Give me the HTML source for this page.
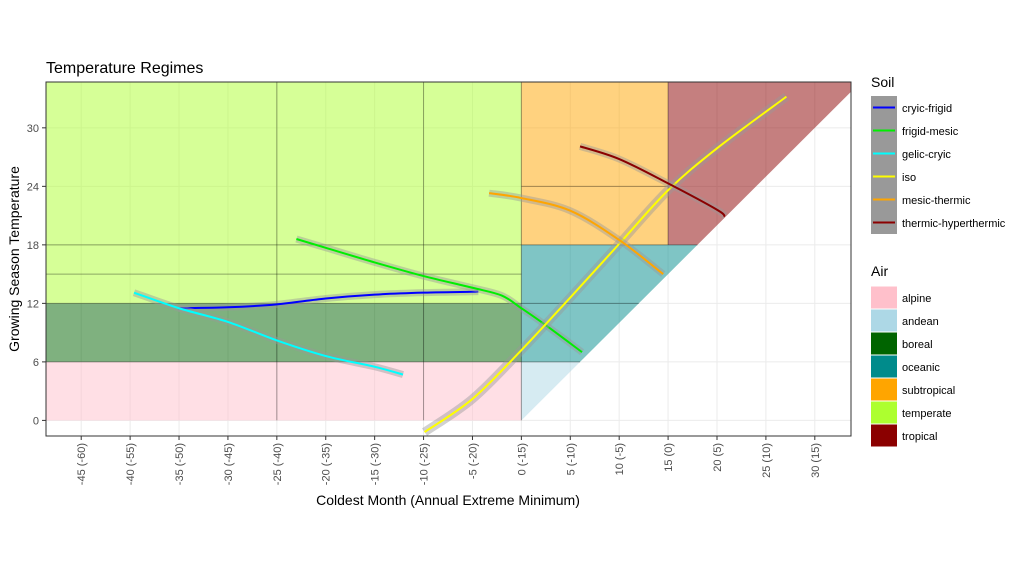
<!DOCTYPE html>
<html><head><meta charset="utf-8"><style>
html,body{margin:0;padding:0;background:#fff;}
svg{display:block;font-family:"Liberation Sans",sans-serif;}
</style></head><body>
<svg id="chart" width="1033" height="567" viewBox="0 0 1033 567">
<defs><clipPath id="diag"><polygon id="diagpoly" points="0,0"/></clipPath>
<clipPath id="panel"><rect x="46" y="82" width="805" height="354"/></clipPath></defs>
<text x="46" y="73" font-size="16" fill="#000">Temperature Regimes</text>
<g id="grid"></g>
<g id="regions" clip-path="url(#diag)"></g>
<g id="bounds"></g>
<g id="series" clip-path="url(#panel)"></g>
<rect x="46" y="82" width="805" height="354" fill="none" stroke="#333" stroke-width="1"/>
<g id="axes"></g>
<text x="448" y="505" font-size="14" text-anchor="middle">Coldest Month (Annual Extreme Minimum)</text>
<text transform="translate(19,259) rotate(-90)" font-size="14" text-anchor="middle">Growing Season Temperature</text>
<g id="legend"></g>
</svg>
<script>
const xTicks=[-45,-40,-35,-30,-25,-20,-15,-10,-5,0,5,10,15,20,25,30];
const xTickLabels=["-45 (-60)","-40 (-55)","-35 (-50)","-30 (-45)","-25 (-40)","-20 (-35)","-15 (-30)","-10 (-25)","-5 (-20)","0 (-15)","5 (-10)","10 (-5)","15 (0)","20 (5)","25 (10)","30 (15)"];
const yTicks=[0,6,12,18,24,30];
const soilNames=["cryic-frigid","frigid-mesic","gelic-cryic","iso","mesic-thermic","thermic-hyperthermic"];
const soilColors=["#0000ff","#00ee00","#00ffff","#ffff00","#ffa500","#8b0000"];
const cryicFrigidX=[-35.1,-30,-25,-20,-15,-10,-4.4];
const cryicFrigidY=[11.5,11.6,11.9,12.5,12.9,13.1,13.2];
const frigidMesicX=[-23,-20,-15,-10,-5,-2,0,2.3,6.2];
const frigidMesicY=[18.6,17.7,16.2,14.8,13.6,12.8,11.5,9.9,7.0];
const gelicCryicX=[-39.6,-35,-30,-25,-20,-15,-12.1];
const gelicCryicY=[13.1,11.5,10.1,8.2,6.6,5.5,4.7];
const isoX=[-9.9,-5,0,5,10,15,20,27.1];
const isoY=[-1.2,2.2,7.2,12.6,18.1,23.6,27.9,33.2];
const mesicThermicX=[-3.3,0,5,10,14.5];
const mesicThermicY=[23.3,22.8,21.5,18.5,15];
const thermicHyperX=[6,10,15,20,20.8];
const thermicHyperY=[28.1,26.8,24.3,21.6,20.9];
const airNames=["alpine","andean","boreal","oceanic","subtropical","temperate","tropical"];
const airColors=["#ffc0cb","#add8e6","#006400","#008b8b","#ffa500","#adff2f","#8b0000"];
const NS="http://www.w3.org/2000/svg";
const X0=-48.6,X1=33.7,Y0=-1.6,Y1=34.7,PL=46,PR=851,PT=82,PB=436;
const sx=v=>PL+(v-X0)/(X1-X0)*(PR-PL);
const sy=v=>PB-(v-Y0)/(Y1-Y0)*(PB-PT);
function mk(tag,attrs,parent){const e=document.createElementNS(NS,tag);for(const k in attrs)e.setAttribute(k,attrs[k]);parent.appendChild(e);return e;}
const grid=document.getElementById('grid');
xTicks.forEach(t=>{const l=mk('line',{x1:sx(t),x2:sx(t),y1:PT,y2:PB,stroke:'#ebebeb','stroke-width':1},grid);
});
yTicks.forEach(t=>{const l=mk('line',{x1:PL,x2:PR,y1:sy(t),y2:sy(t),stroke:'#ebebeb','stroke-width':1},grid);
});
document.getElementById('diagpoly').setAttribute('points',[[-60,-60],[40,40],[-60,40]].map(p=>sx(p[0])+','+sy(p[1])).join(' '));
const reg=document.getElementById('regions');
const rects=[["temperate",X0,12,0,Y1,"#adff2f"],["boreal",X0,6,0,12,"#006400"],["alpine",X0,0,0,6,"#ffc0cb"],
["subtropical",0,18,15,Y1,"#ffa500"],["tropical",15,18,X1,Y1,"#8b0000"],["oceanic",0,6,18,18,"#008b8b"],["andean",0,0,6,6,"#add8e6"]];
rects.forEach(r=>{const e=mk('rect',{x:sx(r[1]),y:sy(r[4]),width:sx(r[3])-sx(r[1]),height:sy(r[2])-sy(r[4]),fill:r[5],'fill-opacity':0.5},reg);
});
const bnd=document.getElementById('bounds');
[[-25,0,-25,Y1],[-10,0,-10,Y1],[0,0,0,Y1],[15,18,15,Y1],[X0,15,0,15],[X0,12,12,12],[X0,6,6,6],[0,24,15,24],[X0,18,18,18]].forEach(b=>{
const l=mk('line',{x1:sx(b[0]),y1:sy(b[1]),x2:sx(b[2]),y2:sy(b[3]),stroke:'#000','stroke-opacity':0.35,'stroke-width':1},bnd);
});
const ser=document.getElementById('series');
const data=[[cryicFrigidX,cryicFrigidY],[frigidMesicX,frigidMesicY],[gelicCryicX,gelicCryicY],[isoX,isoY],[mesicThermicX,mesicThermicY],[thermicHyperX,thermicHyperY]];
function path(xs,ys){const p=xs.map((x,i)=>[sx(x),sy(ys[i])]);let d='M'+p[0].join(',');
for(let i=0;i<p.length-1;i++){const p0=p[i-1]||p[i],p1=p[i],p2=p[i+1],p3=p[i+2]||p2;
d+=` C${p1[0]+(p2[0]-p0[0])/6},${p1[1]+(p2[1]-p0[1])/6} ${p2[0]-(p3[0]-p1[0])/6},${p2[1]-(p3[1]-p1[1])/6} ${p2[0]},${p2[1]}`;}return d;}
data.forEach((s,i)=>{const d=path(s[0],s[1]);
const rb=mk('path',{d:d,fill:'none',stroke:'#999','stroke-opacity':0.45,'stroke-width':i==3?9:7},ser);

const ln=mk('path',{d:d,fill:'none',stroke:soilColors[i],'stroke-width':2},ser);
});
const ax=document.getElementById('axes');
xTicks.forEach((t,i)=>{mk('line',{x1:sx(t),x2:sx(t),y1:PB,y2:PB+4,stroke:'#333'},ax);
const tx=mk('text',{transform:`translate(${sx(t)+4},${PB+7}) rotate(-90)`,'font-size':11,fill:'#4d4d4d','text-anchor':'end'},ax);
tx.textContent=xTickLabels[i];});
yTicks.forEach(t=>{mk('line',{x1:PL-4,x2:PL,y1:sy(t),y2:sy(t),stroke:'#333'},ax);
const tx=mk('text',{x:PL-7,y:sy(t)+4,'font-size':11,fill:'#4d4d4d','text-anchor':'end'},ax);
tx.textContent=t;});
const lg=document.getElementById('legend');
let t=mk('text',{x:871,y:87,'font-size':14},lg);t.textContent='Soil';
soilNames.forEach((n,i)=>{const y=96+i*23;mk('rect',{x:871,y:y,width:26,height:23,fill:'#999'},lg);
mk('line',{x1:873,x2:895,y1:y+11.5,y2:y+11.5,stroke:soilColors[i],'stroke-width':2},lg);
const tx=mk('text',{x:902,y:y+16,'font-size':11},lg);tx.textContent=n;});
t=mk('text',{x:871,y:276,'font-size':14},lg);t.textContent='Air';
airNames.forEach((n,i)=>{const y=286+i*23;mk('rect',{x:871,y:y+0.5,width:26,height:22,fill:airColors[i]},lg);
const tx=mk('text',{x:902,y:y+16,'font-size':11},lg);tx.textContent=n;});
</script>
</body></html>
